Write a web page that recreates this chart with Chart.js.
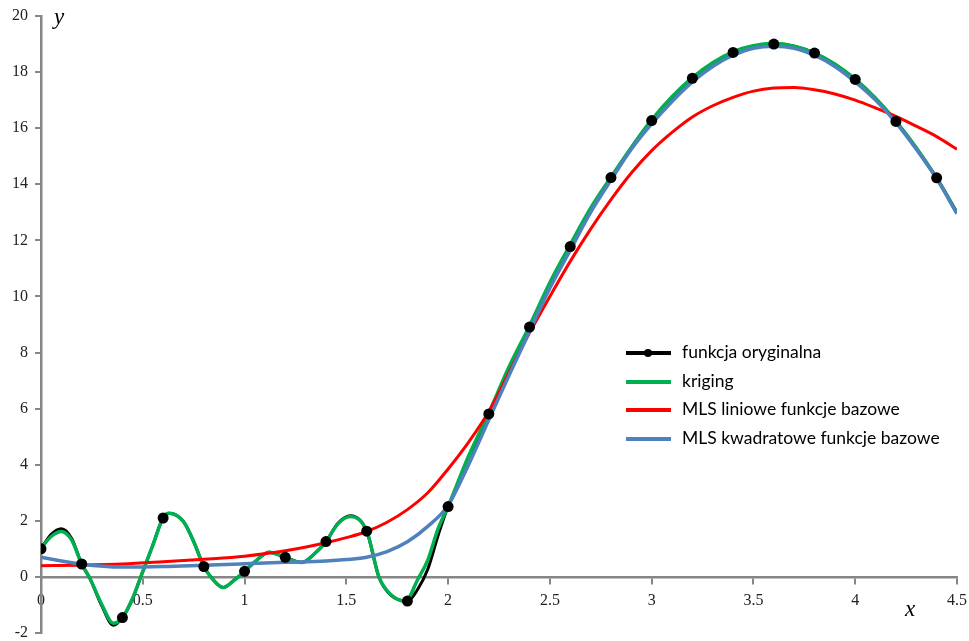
<!DOCTYPE html>
<html>
<head>
<meta charset="utf-8">
<script src="https://cdn.jsdelivr.net/npm/chart.js@4.4.0/dist/chart.umd.min.js"></script>
<style>
  body { margin: 0; background: #fff; }
  #wrap { position: relative; width: 969px; height: 641px; }
  .axis-title { position: absolute; font-family: "Liberation Serif", serif; font-style: italic; font-size: 23px; color: #000; }
  #legend { position: absolute; left: 625px; top: 339px; font-family: Lato, "Noto Sans", sans-serif; font-size: 17.5px; color: #000; }
  .row { position: relative; height: 28.5px; line-height: 26px; padding-left: 57px; white-space: nowrap; }
  .swatch { position: absolute; left: 1px; top: 12px; width: 45px; height: 4px; }
  .dot { position: absolute; left: 19px; top: 10px; width: 8px; height: 8px; border-radius: 50%; background: #000; }
</style>
</head>
<body>
<div id="wrap">
  <canvas id="chart" width="969" height="641"></canvas>
  <span class="axis-title" style="left:54px; top:4px;">y</span>
  <span class="axis-title" style="left:905px; top:596px;">x</span>
  <div id="legend"></div>
</div>
<script>
// --- dane ---
const seriesNames = ['funkcja oryginalna', 'kriging', 'MLS liniowe funkcje bazowe', 'MLS kwadratowe funkcje bazowe'];
const seriesColors = ['#000000', '#00B050', '#FF0000', '#4F81BD'];

// punkty funkcji oryginalnej (markery)
const xPoints = [0, 0.2, 0.4, 0.6, 0.8, 1.0, 1.2, 1.4, 1.6, 1.8, 2.0, 2.2, 2.4, 2.6, 2.8, 3.0, 3.2, 3.4, 3.6, 3.8, 4.0, 4.2, 4.4];
const yPoints = [1.0, 0.46, -1.45, 2.1, 0.37, 0.2, 0.70, 1.26, 1.63, -0.86, 2.51, 5.81, 8.91, 11.78, 14.24, 16.27, 17.78, 18.7, 19.0, 18.68, 17.74, 16.24, 14.23];

// linia funkcji oryginalnej
const xOrig = [0, 0.05, 0.1, 0.15, 0.2, 0.24, 0.3, 0.355, 0.4, 0.45, 0.49, 0.55, 0.6, 0.63, 0.7, 0.75, 0.8, 0.84, 0.895, 0.95, 1.0, 1.06, 1.12, 1.2, 1.28, 1.34, 1.4, 1.46, 1.52, 1.6, 1.66, 1.72, 1.8, 1.85, 1.9, 1.95, 2.0, 2.1, 2.2, 2.3, 2.4, 2.5, 2.6, 2.7, 2.8, 3.0, 3.2, 3.4, 3.6, 3.8, 4.0, 4.2, 4.4, 4.5];
const yOrig = [1.0, 1.52, 1.72, 1.38, 0.46, -0.05, -1.05, -1.72, -1.45, -0.78, 0, 1.15, 2.1, 2.27, 1.97, 1.26, 0.37, -0.05, -0.38, -0.11, 0.2, 0.6, 0.88, 0.70, 0.51, 0.8, 1.26, 1.92, 2.18, 1.63, 0, -0.66, -0.86, -0.45, 0.27, 1.46, 2.51, 4.0, 5.81, 7.35, 8.91, 10.4, 11.78, 13.1, 14.24, 16.27, 17.78, 18.7, 19.0, 18.68, 17.74, 16.24, 14.23, 12.99];

// kriging
const xKrig = [0, 0.05, 0.1, 0.15, 0.2, 0.24, 0.3, 0.355, 0.4, 0.45, 0.49, 0.55, 0.6, 0.63, 0.7, 0.75, 0.8, 0.84, 0.895, 0.95, 1.0, 1.06, 1.12, 1.2, 1.28, 1.34, 1.4, 1.46, 1.52, 1.6, 1.66, 1.72, 1.79, 1.85, 1.9, 1.95, 2.0, 2.1, 2.2, 2.3, 2.4, 2.5, 2.6, 2.7, 2.8, 3.0, 3.2, 3.4, 3.6, 3.8, 4.0, 4.2, 4.4, 4.5];
const yKrig = [1.02, 1.44, 1.62, 1.32, 0.46, -0.05, -1.0, -1.65, -1.45, -0.76, 0, 1.14, 2.11, 2.27, 1.97, 1.26, 0.37, -0.05, -0.38, -0.11, 0.19, 0.6, 0.88, 0.70, 0.51, 0.8, 1.26, 1.9, 2.15, 1.64, 0, -0.64, -0.87, -0.1, 0.6, 1.7, 2.51, 4.3, 5.85, 7.5, 8.95, 10.5, 11.85, 13.15, 14.25, 16.3, 17.8, 18.72, 19.02, 18.68, 17.75, 16.25, 14.22, 12.98];

// MLS (wspolna siatka x)
const xMls = [0, 0.2, 0.4, 0.6, 0.8, 1.0, 1.2, 1.4, 1.5, 1.6, 1.7, 1.8, 1.9, 2.0, 2.1, 2.2, 2.3, 2.4, 2.5, 2.6, 2.7, 2.8, 2.9, 3.0, 3.1, 3.2, 3.3, 3.4, 3.5, 3.6, 3.7, 3.8, 3.9, 4.0, 4.1, 4.2, 4.3, 4.4, 4.5];
const yMlsLin = [0.40, 0.42, 0.46, 0.54, 0.63, 0.74, 0.93, 1.22, 1.40, 1.62, 1.95, 2.40, 3.00, 3.85, 4.80, 5.90, 7.30, 8.70, 10.00, 11.25, 12.40, 13.45, 14.40, 15.20, 15.85, 16.40, 16.80, 17.10, 17.32, 17.43, 17.45, 17.37, 17.22, 17.00, 16.72, 16.42, 16.07, 15.70, 15.25];
const yMlsKw = [0.70, 0.45, 0.35, 0.37, 0.42, 0.47, 0.52, 0.57, 0.62, 0.70, 0.90, 1.25, 1.80, 2.55, 4.00, 5.60, 7.20, 8.75, 10.30, 11.65, 13.00, 14.15, 15.25, 16.15, 16.95, 17.65, 18.20, 18.60, 18.85, 18.92, 18.85, 18.60, 18.20, 17.65, 17.00, 16.20, 15.25, 14.20, 12.95];

const xTicks = { min: 0, max: 4.5, step: 0.5 };
const yTicks = { min: -2, max: 20, step: 2 };

function pts(xs, ys) {
    return xs.map((x, i) => ({ x: x, y: ys[i] }));
}

function lineSet(xs, ys, color, width, order) {
    return {
        data: pts(xs, ys),
        borderColor: color,
        borderWidth: width,
        pointRadius: 0,
        fill: false,
        cubicInterpolationMode: 'monotone',
        order: order
    };
}

const axisGray = '#868686';
const tickFont = { family: "'Liberation Serif', 'Times New Roman', serif", size: 16 };
// etykiety osi bez zbednych zer (2 zamiast 2.0)
const fmt = v => String(Number(v.toFixed(1)));

new Chart(document.getElementById('chart').getContext('2d'), {
    type: 'line',
    data: {
        datasets: [
            lineSet(xOrig, yOrig, seriesColors[0], 3, 5),
            lineSet(xKrig, yKrig, seriesColors[1], 3.5, 4),
            lineSet(xMls, yMlsLin, seriesColors[2], 3, 3),
            lineSet(xMls, yMlsKw, seriesColors[3], 3.5, 2),
            {
                data: pts(xPoints, yPoints),
                showLine: false,
                pointRadius: 5.5,
                pointBackgroundColor: '#000',
                pointBorderWidth: 0,
                order: 1
            }
        ]
    },
    options: {
        responsive: false,
        animation: false,
        layout: { padding: { top: 16, right: 12, bottom: 8, left: 0 } },
        plugins: { legend: { display: false }, tooltip: { enabled: false } },
        scales: {
            x: {
                type: 'linear',
                position: { y: 0 },
                min: xTicks.min,
                max: xTicks.max,
                ticks: { stepSize: xTicks.step, font: tickFont, color: '#222', maxRotation: 0, autoSkip: false, padding: 8, callback: fmt },
                grid: { drawOnChartArea: false, tickLength: 6, color: axisGray, lineWidth: 2 },
                border: { color: axisGray, width: 2.5 },
                // etykiety nie maja zmniejszac obszaru wykresu
                afterFit: function (scale) { scale.paddingLeft = 0; scale.paddingRight = 0; }
            },
            y: {
                type: 'linear',
                min: yTicks.min,
                max: yTicks.max,
                ticks: { stepSize: yTicks.step, font: tickFont, color: '#222', padding: 7, callback: fmt },
                grid: { drawOnChartArea: false, tickLength: 6, color: axisGray, lineWidth: 2 },
                border: { color: axisGray, width: 2.5 },
                afterFit: function (scale) { scale.width = 41; scale.paddingTop = 0; scale.paddingBottom = 0; }
            }
        }
    }
});

// legenda wewnatrz wykresu
const legendEl = document.getElementById('legend');
seriesNames.forEach((name, i) => {
    const row = document.createElement('div');
    row.className = 'row';
    row.innerHTML = `<span class="swatch" style="background:${seriesColors[i]}"></span>` +
        (i === 0 ? '<span class="dot"></span>' : '') + name;
    legendEl.appendChild(row);
});
</script>
</body>
</html>
